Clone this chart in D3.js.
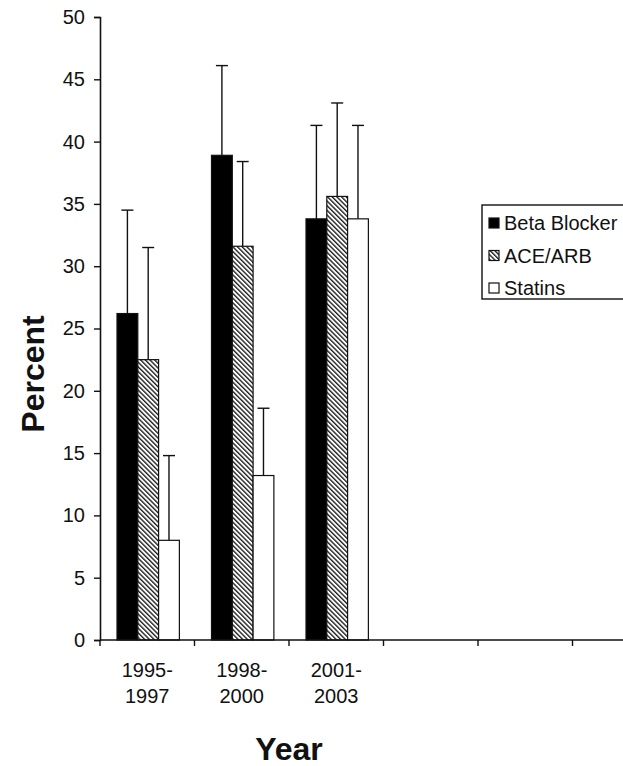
<!DOCTYPE html>
<html>
<head>
<meta charset="utf-8">
<script src="https://cdn.jsdelivr.net/npm/d3@7"></script>
<style>
  body { margin: 0; background: #fff; }
  text { font-family: "Liberation Sans", Arial, sans-serif; fill: #111; }
</style>
</head>
<body>
<svg id="chart"></svg>
<script>
// data
const periods = ["1995-1997", "1998-2000", "2001-2003", "", "", ""];
const drugs = ["Beta Blocker", "ACE/ARB", "Statins"];
const betaBlocker = [26.2, 38.9, 33.8];
const aceArb = [22.5, 31.6, 35.6];
const statins = [8.0, 13.2, 33.8];
// upper end of each error bar
const betaBlockerErr = [34.5, 46.1, 41.3];
const aceArbErr = [31.5, 38.4, 43.1];
const statinsErr = [14.8, 18.6, 41.3];
const yTicks = [0, 5, 10, 15, 20, 25, 30, 35, 40, 45, 50];

const W = 623, H = 766;
const margin = {top: 17, right: -44, bottom: 126, left: 100};
const width = W - margin.left - margin.right,
      height = H - margin.top - margin.bottom;

const svg = d3.select("#chart")
    .attr("width", W)
    .attr("height", H);

// hatch pattern for ACE/ARB
const defs = svg.append("defs");
defs.append("pattern")
    .attr("id", "hatch")
    .attr("patternUnits", "userSpaceOnUse")
    .attr("width", 3.3)
    .attr("height", 3.3)
    .attr("patternTransform", "rotate(-45)")
  .call(p => {
      p.append("rect").attr("width", 3.3).attr("height", 3.3).attr("fill", "#fff");
      p.append("line")
          .attr("x1", 0.7).attr("y1", 0).attr("x2", 0.7).attr("y2", 3.3)
          .attr("stroke", "#111").attr("stroke-width", 1.3);
  });

const fills = ["#000", "url(#hatch)", "#fff"];

const chart = svg.append("g")
    .attr("transform", `translate(${margin.left},${margin.top})`);

// scales
const x = d3.scaleBand()
    .domain(d3.range(periods.length))
    .range([0, width]);

const xInner = d3.scaleBand()
    .domain(drugs)
    .range([x.bandwidth() * 0.18, x.bandwidth() * 0.84]);

const y = d3.scaleLinear()
    .domain([0, 50])
    .range([height, 0]);

// build rows for drawing
const rows = [];
[betaBlocker, aceArb, statins].forEach((vals, k) => {
    const errs = [betaBlockerErr, aceArbErr, statinsErr][k];
    vals.forEach((v, i) => rows.push({i, drug: drugs[k], k, value: v, err: errs[i]}));
});

// error bars (drawn under the bars)
const eb = chart.append("g")
    .selectAll("g")
    .data(rows)
    .join("g")
    .attr("stroke", "#111")
    .attr("stroke-width", 1.4);

eb.append("line")
    .attr("x1", d => x(d.i) + xInner(d.drug) + xInner.bandwidth() / 2)
    .attr("x2", d => x(d.i) + xInner(d.drug) + xInner.bandwidth() / 2)
    .attr("y1", d => y(d.value))
    .attr("y2", d => y(d.err));

eb.append("line")
    .attr("x1", d => x(d.i) + xInner(d.drug) + xInner.bandwidth() / 2 - 6)
    .attr("x2", d => x(d.i) + xInner(d.drug) + xInner.bandwidth() / 2 + 6)
    .attr("y1", d => y(d.err))
    .attr("y2", d => y(d.err));

// bars
chart.append("g")
    .selectAll("rect")
    .data(rows)
    .join("rect")
    .attr("x", d => x(d.i) + xInner(d.drug))
    .attr("y", d => y(d.value))
    .attr("width", xInner.bandwidth())
    .attr("height", d => y(0) - y(d.value))
    .attr("fill", d => fills[d.k])
    .attr("stroke", "#111")
    .attr("stroke-width", 1.2);

// y axis
const yAxis = chart.append("g")
    .call(d3.axisLeft(y).tickValues(yTicks).tickSize(6).tickPadding(9));
yAxis.select(".domain").attr("stroke", "#111").attr("stroke-width", 1.6);
yAxis.selectAll(".tick line").attr("stroke", "#111").attr("stroke-width", 1.4);
yAxis.selectAll(".tick text")
    .style("font-size", "20px")
    .style("font-family", "'Liberation Sans', Arial, sans-serif")
    .attr("fill", "#111");

// x axis (ticks between categories)
const xAxis = chart.append("g")
    .attr("transform", `translate(0,${height})`);
xAxis.append("line")
    .attr("x1", 0).attr("x2", width)
    .attr("stroke", "#111").attr("stroke-width", 1.6);
xAxis.selectAll("line.tk")
    .data(d3.range(periods.length + 1))
    .join("line")
    .attr("class", "tk")
    .attr("x1", i => i * x.step())
    .attr("x2", i => i * x.step())
    .attr("y1", 0).attr("y2", 6)
    .attr("stroke", "#111").attr("stroke-width", 1.4);

// two-line category labels
const lab = xAxis.selectAll("text.cat")
    .data(periods.filter(p => p))
    .join("text")
    .attr("class", "cat")
    .attr("text-anchor", "middle")
    .style("font-size", "20px");
lab.append("tspan")
    .attr("x", (d, i) => x(i) + x.bandwidth() / 2)
    .attr("y", 37)
    .text(d => d.split("-")[0] + "-");
lab.append("tspan")
    .attr("x", (d, i) => x(i) + x.bandwidth() / 2)
    .attr("y", 63)
    .text(d => d.split("-")[1]);

// axis titles
svg.append("text")
    .attr("transform", `translate(44,374) rotate(-90)`)
    .attr("text-anchor", "middle")
    .style("font-size", "32px")
    .style("font-weight", "bold")
    .text("Percent");

svg.append("text")
    .attr("x", 289)
    .attr("y", 760)
    .attr("text-anchor", "middle")
    .style("font-size", "32px")
    .style("font-weight", "bold")
    .text("Year");

// legend
const legend = svg.append("g")
    .attr("transform", "translate(482,205)");
legend.append("rect")
    .attr("width", 160)
    .attr("height", 94)
    .attr("fill", "#fff")
    .attr("stroke", "#111")
    .attr("stroke-width", 1.4);
const li = legend.selectAll("g")
    .data(drugs)
    .join("g")
    .attr("transform", (d, i) => `translate(7,${13 + i * 32.5})`);
li.append("rect")
    .attr("width", 10)
    .attr("height", 10)
    .attr("fill", (d, i) => fills[i])
    .attr("stroke", "#111")
    .attr("stroke-width", 1.2);
li.append("text")
    .attr("x", 15)
    .attr("y", 12)
    .style("font-size", "20px")
    .text(d => d);
</script>
</body>
</html>
